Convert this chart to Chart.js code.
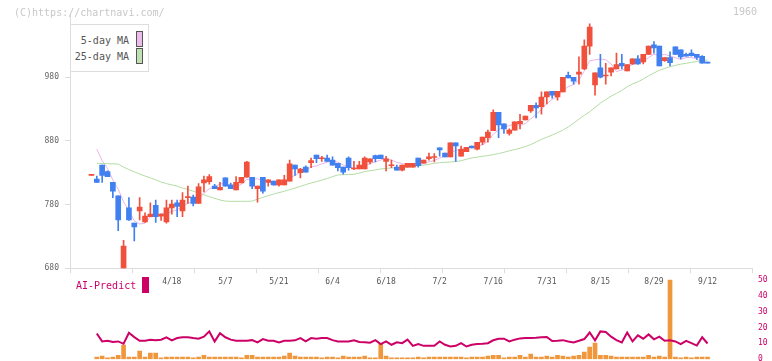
<!DOCTYPE html>
<html><head><meta charset="utf-8">
<script src="https://cdn.jsdelivr.net/npm/chart.js@4/dist/chart.umd.min.js"></script>
<style>
html,body{margin:0;padding:0;background:#fff;}
body{width:772px;height:361px;position:relative;overflow:hidden;font-family:"DejaVu Sans Mono",monospace;}
canvas{position:absolute;left:0;}
#c1{top:0;width:772px;height:300px;}
#c2{top:268.5px;width:772px;height:101px;}
.t{position:absolute;white-space:pre;line-height:10px;font-size:10px;}
.sw{position:absolute;box-sizing:border-box;}
</style></head><body>
<canvas id="c1" width="772" height="300"></canvas>
<canvas id="c2" width="772" height="101"></canvas>
<div class="t" style="left:14px;top:8px;color:#c8c8c8">(C)https://chartnavi.com/</div>
<div class="t" style="right:15px;top:7px;color:#c8c8c8">1960</div>
<div class="sw" style="left:70px;top:24px;width:79px;height:48px;border:1px solid #ddd;background:#fff"></div>
<div class="t" style="right:643px;top:36px;color:#555">5-day MA</div>
<div class="t" style="right:643px;top:52px;color:#555">25-day MA</div>
<div class="sw" style="left:136px;top:31px;width:7px;height:16px;border:1px solid #555;background:#ecbcec"></div>
<div class="sw" style="left:136px;top:48px;width:7px;height:16px;border:1px solid #555;background:#bfe0b2"></div>
<div class="t" style="left:76px;top:281px;color:#cc0066">AI-Predict</div>
<div class="sw" style="left:142px;top:277px;width:7px;height:16px;background:#cc0066"></div>
<script>
const dates = ['3/28','3/31','4/1','4/2','4/3','4/4','4/7','4/8','4/9','4/10',
'4/11','4/14','4/15','4/16','4/17','4/18','4/21','4/22','4/23','4/24',
'4/25','4/28','4/30','5/1','5/2','5/7','5/8','5/9','5/12','5/13',
'5/14','5/15','5/16','5/19','5/20','5/21','5/22','5/23','5/26','5/27',
'5/28','5/29','5/30','6/2','6/3','6/4','6/5','6/6','6/9','6/10',
'6/11','6/12','6/13','6/16','6/17','6/18','6/19','6/20','6/23','6/24',
'6/25','6/26','6/27','6/30','7/1','7/2','7/3','7/4','7/7','7/8',
'7/9','7/10','7/11','7/14','7/15','7/16','7/17','7/18','7/22','7/23',
'7/24','7/25','7/28','7/29','7/30','7/31','8/1','8/4','8/5','8/6',
'8/7','8/8','8/12','8/13','8/14','8/15','8/18','8/19','8/20','8/21',
'8/22','8/25','8/26','8/27','8/28','8/29','9/1','9/2','9/3','9/4',
'9/5','9/8','9/9','9/10','9/11','9/12'];
const xLabels = ['4/18','5/7','5/21','6/4','6/18','7/2','7/16','7/31','8/15','8/29','9/12'];
const yTicks = [680,780,880,980];
const aiTicks = [0,10,20,30,40,50];
const opens = [826,820,842,832,815,794,670,775,751,770,
753,761,779,762,753,775,783,770,791,792,
782,814,816,809,803,822,811,803,814,823,
823,805,823,815,817,811,811,817,842,830,
839,846,858,852,853,850,845,839,853,836,
836,836,847,857,858,848,841,839,834,839,
839,853,845,852,854,869,861,855,877,856,
863,872,867,878,885,896,925,907,892,897,
907,913,927,936,934,949,958,949,957,983,
980,985,993,1029,968,995,982,988,993,1002,
990,1001,1009,1004,1016,1031,1029,1006,1011,1028,
1023,1016,1018,1016,1013,1004];
const highs = [827,825,842,833,815,794,724,791,751,791,
767,783,787,765,787,787,787,799,809,795,
813,825,827,812,815,822,814,824,823,848,
823,809,823,819,817,819,826,850,842,837,
841,853,858,856,858,855,845,839,855,848,
848,855,852,858,858,856,850,842,842,845,
845,853,850,861,860,869,861,877,877,872,
870,872,878,886,897,929,925,907,899,910,
922,919,936,940,957,957,958,958,980,988,
980,1012,1039,1064,987,1016,1002,995,1018,1016,
1000,1009,1014,1016,1029,1036,1029,1011,1020,1028,
1023,1018,1023,1016,1014,1004];
const lows = [826,815,815,824,791,739,660,755,723,756,
752,761,752,755,751,765,761,761,782,778,
782,800,812,805,803,809,805,803,814,823,
805,784,798,809,811,809,811,817,826,822,
831,838,846,848,848,842,833,828,834,835,
836,836,844,847,852,833,838,834,833,839,
839,839,845,850,847,856,855,855,848,856,
863,869,866,874,878,896,885,892,889,897,
899,913,925,916,922,938,947,944,957,979,
969,969,992,1016,952,979,969,982,993,993,
990,1000,1000,1001,1016,1018,998,1005,998,1016,
1009,1013,1013,1008,1002,1002];
const closes = [827,815,826,824,801,756,715,756,745,776,
762,765,761,765,775,781,777,787,792,782,
808,819,824,805,807,809,805,815,823,847,
809,809,801,819,811,819,819,844,836,836,
831,849,852,853,848,842,838,831,838,837,
842,853,852,852,852,852,842,834,842,845,
845,841,850,855,855,866,855,877,872,867,
870,869,878,886,894,925,905,899,897,910,
911,919,936,932,949,957,952,958,980,979,
974,988,1029,1059,987,980,983,995,1000,998,
1000,1009,1001,1016,1029,1026,998,1011,1003,1016,
1012,1013,1014,1011,1002,1002];
const ma5 = [null,867,849,837,818.6,804.4,784.4,770.4,754.6,749.6,
750.8,760.8,761.8,765.8,765.6,769.4,771.8,777,782.4,783.8,
789.2,797.6,805,807.6,812.6,812.8,810,808.2,811.8,819.8,
819.8,820.6,817.8,817,809.8,811.8,813.8,822.4,825.8,830.8,
833.2,839.2,840.8,844.2,846.6,848.8,846.6,842.4,839.4,837.2,
837.2,840.2,844.4,847.2,850.2,852.2,850,846.4,844.4,843,
841.6,841.4,844.6,847.2,849.2,853.4,856.2,861.6,865,867.4,
868.2,871,871.2,874,879.4,890.4,897.6,901.8,904,907.2,
904.4,907.2,914.6,921.6,929.4,938.6,945.2,949.6,959.2,965.2,
968.6,975.8,990,1005.8,1007.4,1008.6,1007.6,1000.8,989,991.2,
995.2,1000.4,1001.6,1004.8,1011,1016.2,1014,1016,1013.4,1010.8,
1008,1011,1011.2,1008.4,1004.8,1003.4];
const ma25 = [null,845,844.7,844.3,844,843.7,839,835,831.5,828,
825,822,819,815.5,813,811,809,806,804,801,
798.5,795.5,792.5,790,787.3,785.5,785.2,785.2,785.2,785.2,
785.5,788.5,791.5,794,796.5,798.8,801,803.5,806,808.7,
811.5,814,816,818.5,821,824,826.6,827,827.3,827.6,
829.5,831.9,833.2,834.5,836,837,837.5,838,838.5,839,
839.7,841,842,843.3,845,845.7,846.5,847,847.6,849,
851.3,853.2,854.6,855.9,857,858.5,860.2,862.2,864.5,866.5,
868.5,871.3,874.3,878.4,882.5,885.8,889.3,893,897,902,
907.8,914.4,920.3,925.8,932.6,939.4,945,950.4,954.6,959.4,
965,969.6,972.7,977.2,982.3,986.7,991,993.8,996.6,998.7,
1000.6,1002,1003.4,1004.8,1005.9,1007];
const aiLine = [null,16.2,11.2,11.6,10.8,11.2,9.7,16.6,13.9,11.6,
11.6,12.3,11.9,12.3,13.8,11.9,13.3,13.8,13.8,13.3,
12.9,14.2,17.5,11.2,16.4,13.8,12.3,11.6,11.6,11.6,
12,10.6,12.7,11.6,11.6,10.6,11.6,11.6,11.9,13.3,
11.2,13.3,12.9,13.3,13.3,12,11.2,11.2,11.2,11.9,
10.8,10.6,10.4,12,9.5,11.2,9.1,10.6,10.1,12.3,
8.4,9.5,8.4,8.4,8.4,11.2,9.1,8,8.4,10.1,
8,9.1,9.5,9.7,10.1,11.9,12.9,12.9,11.2,12.3,
13.1,13.3,13.3,13.5,13.8,14,11.5,11.6,12,11.2,
10.6,11.6,12.7,16.8,11.9,17.5,17.1,14.2,12,10.6,
16.8,11.2,15,12.9,15.6,12.5,14.2,11.6,11.9,11.2,
9.5,11.6,10.1,8.6,13.8,9.9];
const aiBars = [null,1.3,1.9,0.9,1.3,2.5,8.9,1.3,1.3,5.1,
1.3,3.8,3.8,0.9,1.3,1.3,1.3,1.3,1.3,0.9,
1.3,2.5,1.3,1.3,1.3,1.3,1.3,1.3,0.9,2.5,
2.5,1.3,1.3,1.3,1.3,1.3,1.9,3.8,1.9,1.3,
1.3,1.3,1.3,0.9,1.3,1.3,0.9,1.9,1.3,1.3,
1.3,1.9,0.9,0.9,10,1.9,0.9,0.9,0.9,0.9,
0.9,1.3,0.9,1.3,1.3,1.3,1.3,1.3,1.3,1.3,
0.9,1.3,1.3,1.3,1.9,2.5,2.5,0.9,1.3,1.3,
2.5,1.3,3.2,1.3,1.3,1.9,1.3,2.5,1.9,1.3,
1.9,2.5,4.5,7.6,10.2,2.5,2.5,1.9,1.3,1.3,
1.3,1.3,1.3,1.3,2.5,1.3,1.9,1.3,52,1.3,
0.9,1.3,0.9,1.3,1.3,1.3];

const RED = '#f0503c', BLUE = '#4080f0', PINK = '#e8b4e8', GREEN = '#b4dca4';
const MAG = '#cc0066', ORANGE = '#f0963c', AXIS = '#dcdcdc';
const FONT = 'DejaVu Sans Mono';
const X_MIN = -4, X_MAX = 123.3;

const idx = dates.map((d, i) => i);
const col = idx.map(i => closes[i] >= opens[i] ? RED : BLUE);

new Chart(document.getElementById('c1'), {
  type: 'bar',
  data: { datasets: [
    { type: 'line', label: '5-day MA', data: idx.map(i => ({x: i, y: ma5[i]})),
      borderColor: PINK, borderWidth: 1, pointRadius: 0, order: 4 },
    { type: 'line', label: '25-day MA', data: idx.map(i => ({x: i, y: ma25[i]})),
      borderColor: GREEN, borderWidth: 1, pointRadius: 0, order: 3 },
    { type: 'bar', data: idx.map(i => ({x: i, y: [lows[i], highs[i]]})),
      backgroundColor: col, barThickness: 1, grouped: false, order: 2 },
    { type: 'bar', data: idx.map(i => ({x: i, y: [opens[i], closes[i]]})),
      backgroundColor: col, barThickness: 5, grouped: false, minBarLength: 1, order: 1 }
  ]},
  options: {
    responsive: false, animation: false, events: [],
    layout: { padding: { left: 0, right: 20, top: 13.6, bottom: 0 } },
    plugins: { legend: { display: false }, tooltip: { enabled: false } },
    scales: {
      x: { type: 'linear', position: 'bottom', min: X_MIN, max: X_MAX, weight: 1, offset: false,
        grid: { display: false, drawTicks: false, offset: false }, border: { display: false },
        afterBuildTicks: s => { s.ticks = xLabels.map(l => ({ value: dates.indexOf(l) })); },
        ticks: { callback: v => dates[v], font: { family: FONT, size: 8 }, color: '#555',
          maxRotation: 0, autoSkip: false, padding: 4 },
        afterFit: s => { s.height = 26.7; } },
      xt: { type: 'linear', axis: 'x', position: 'bottom', min: 0, max: 11, weight: 0, offset: false,
        ticks: { display: false, stepSize: 1 },
        grid: { drawOnChartArea: false, drawTicks: true, tickLength: 5, color: AXIS, offset: false },
        border: { display: true, color: AXIS },
        afterFit: s => { s.height = 5; } },
      y: { position: 'left', min: 680, max: 1080,
        afterBuildTicks: s => { s.ticks = yTicks.map(v => ({ value: v })); },
        grid: { drawOnChartArea: false, drawTicks: true, tickLength: 5, color: AXIS },
        border: { display: true, color: AXIS },
        ticks: { font: { family: FONT, size: 8 }, color: '#666', padding: 6 },
        afterFit: s => { s.width = 70; } }
    }
  }
});

new Chart(document.getElementById('c2'), {
  type: 'bar',
  data: { datasets: [
    { type: 'line', label: 'AI-Predict', data: idx.map(i => ({x: i, y: aiLine[i]})),
      borderColor: MAG, borderWidth: 2, pointRadius: 0, order: 1 },
    { type: 'bar', data: idx.map(i => ({x: i, y: aiBars[i]})),
      backgroundColor: ORANGE, barThickness: 4, order: 2 }
  ]},
  options: {
    responsive: false, animation: false, events: [],
    layout: { padding: { left: 70, right: 0, top: 0, bottom: 0 } },
    plugins: { legend: { display: false }, tooltip: { enabled: false } },
    scales: {
      x: { type: 'linear', min: X_MIN, max: X_MAX, display: false, offset: false, grid: { offset: false } },
      y: { position: 'right', min: 0, max: 50,
        afterBuildTicks: s => { s.ticks = aiTicks.map(v => ({ value: v })); },
        grid: { display: false, drawTicks: false }, border: { display: false },
        ticks: { font: { family: FONT, size: 8 }, color: MAG, padding: 6 },
        afterFit: s => { s.width = 20; } }
    }
  }
});
</script>
</body></html>
